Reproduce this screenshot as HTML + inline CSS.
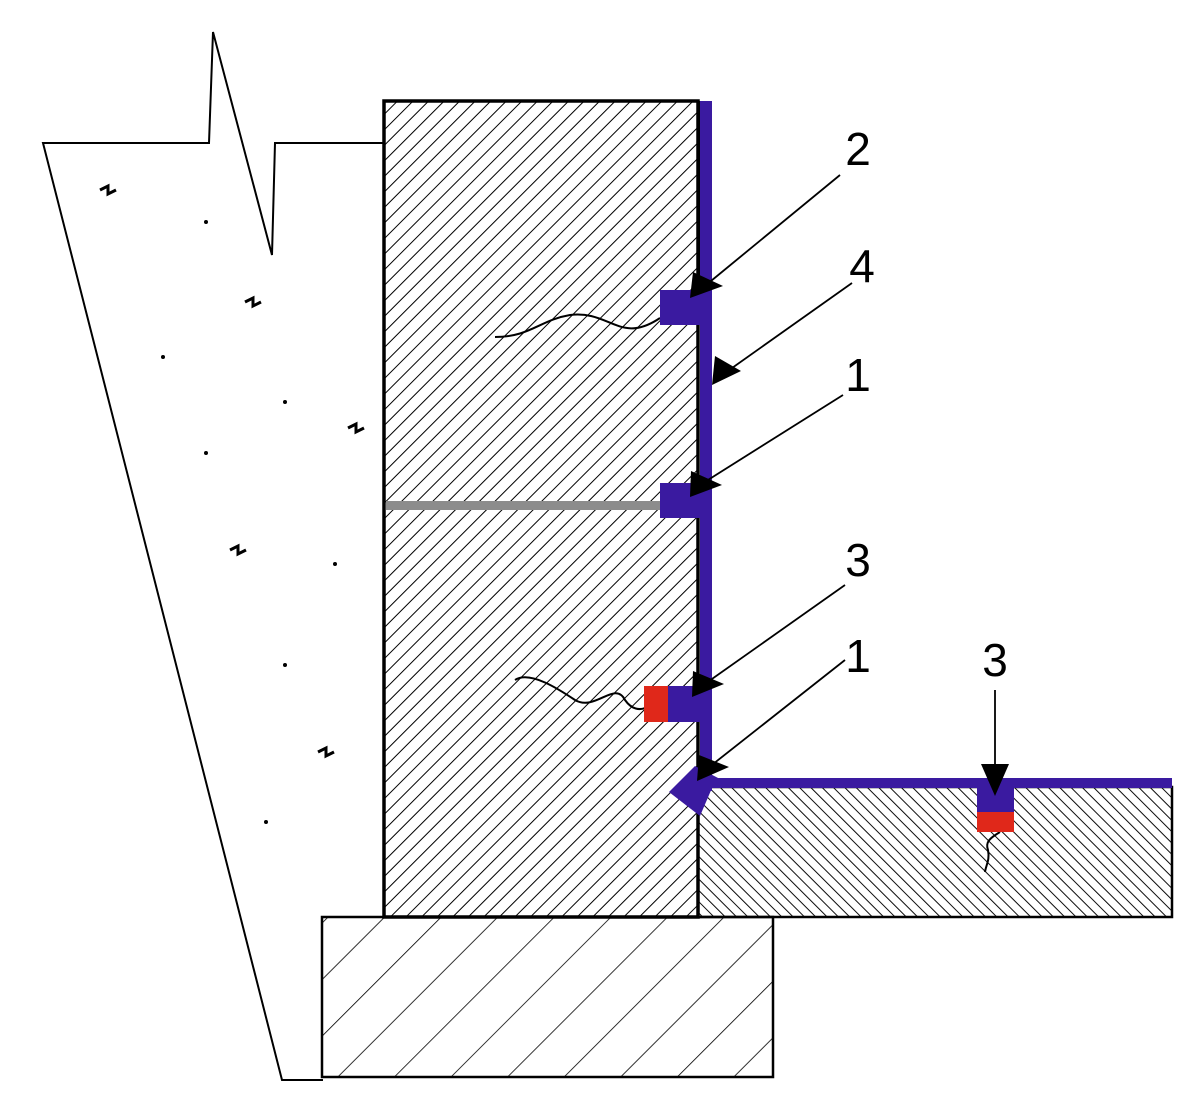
<!DOCTYPE html>
<html><head><style>body{margin:0;background:#fff}svg{display:block}</style></head><body>
<svg width="1200" height="1114" viewBox="0 0 1200 1114" xmlns="http://www.w3.org/2000/svg">
<defs>
<pattern id="hw" width="11" height="11" patternUnits="userSpaceOnUse" patternTransform="rotate(45)">
<line x1="0" y1="0" x2="0" y2="11" stroke="#000" stroke-width="2"/></pattern>
<pattern id="hs" width="8" height="8" patternUnits="userSpaceOnUse" patternTransform="rotate(-45)">
<line x1="0" y1="0" x2="0" y2="8" stroke="#000" stroke-width="1.9"/></pattern>
<pattern id="hf" width="40" height="40" patternUnits="userSpaceOnUse" patternTransform="rotate(45)">
<line x1="0" y1="0" x2="0" y2="40" stroke="#000" stroke-width="1.6"/></pattern>
</defs>
<!-- soil -->
<polyline points="383,143 275,143 272,255 213,32 209,143 43,143 282,1080 323,1080" fill="none" stroke="#000" stroke-width="2"/>
<g fill="#000">
<circle cx="206" cy="222" r="2"/><circle cx="163" cy="357" r="2"/><circle cx="285" cy="402" r="2"/><circle cx="206" cy="453" r="2"/><circle cx="335" cy="564" r="2"/><circle cx="285" cy="665" r="2"/><circle cx="266" cy="822" r="2"/>
</g>
<g fill="none" stroke="#000" stroke-width="3">
<path d="M100 190 l8 -4 l0 8 l8 -4"/><path d="M245 302 l8 -4 l0 8 l8 -4"/><path d="M348 428 l8 -4 l0 8 l8 -4"/><path d="M230 550 l8 -4 l0 8 l8 -4"/><path d="M318 752 l8 -4 l0 8 l8 -4"/>
</g>
<!-- wall -->
<rect x="384" y="101" width="314" height="816" fill="url(#hw)" stroke="#000" stroke-width="3.5"/>
<!-- footing -->
<rect x="322" y="917" width="451" height="160" fill="url(#hf)" stroke="#000" stroke-width="2.5"/>
<!-- slab -->
<rect x="698" y="787" width="474" height="130" fill="url(#hs)" stroke="#000" stroke-width="2.5"/>
<rect x="386" y="501" width="275" height="9" fill="#8c8c8c"/>
<!-- squiggles -->
<g fill="none" stroke="#000" stroke-width="2">
<path d="M495 337 C530 337 540 320 570 315 C610 310 620 345 660 318"/>
<path d="M515 680 C530 670 560 690 575 700 C595 712 615 680 625 700 C632 710 640 710 645 708"/>
<path d="M1000 832 C990 838 985 842 988 850 C990 860 986 865 985 872"/>
</g>
<!-- membrane -->
<g fill="#3a1aa0">
<rect x="700" y="101" width="12" height="690"/>
<rect x="660" y="290" width="48" height="35"/>
<rect x="660" y="483" width="48" height="35"/>
<rect x="668" y="686" width="40" height="36"/>
<rect x="710" y="778" width="462" height="10"/>
<polygon points="669,792 695,766 720,779 712,788 700,816"/>
<rect x="977" y="783" width="37" height="30"/>
</g>
<line x1="699" y1="101" x2="699" y2="290" stroke="#000" stroke-width="2"/>
<rect x="644" y="686" width="24" height="36" fill="#e0281a"/>
<rect x="977" y="812" width="37" height="20" fill="#e0281a"/>
<!-- leaders -->
<g stroke="#000" stroke-width="1.8">
<line x1="840" y1="175" x2="700" y2="290"/>
<line x1="852" y1="283" x2="725" y2="373"/>
<line x1="843" y1="395" x2="700" y2="485"/>
<line x1="845" y1="585" x2="702" y2="686"/>
<line x1="845" y1="660" x2="708" y2="768"/>
<line x1="995" y1="690" x2="995" y2="775"/>
</g>
<g fill="#000">
<polygon points="690,298 693,272 723,286"/>
<polygon points="712,385 715,356 741,371"/>
<polygon points="690,497 691,471 722,485"/>
<polygon points="692,697 693,671 724,684"/>
<polygon points="697,781 699,755 729,767"/>
<polygon points="995,796 981,764 1009,764"/>
</g>
<g font-family="Liberation Sans, sans-serif" font-size="46" fill="#000" text-anchor="middle">
<text x="858" y="165">2</text>
<text x="862" y="282">4</text>
<text x="858" y="391">1</text>
<text x="858" y="576">3</text>
<text x="858" y="672">1</text>
<text x="995" y="676">3</text>
</g>
</svg>
</body></html>
